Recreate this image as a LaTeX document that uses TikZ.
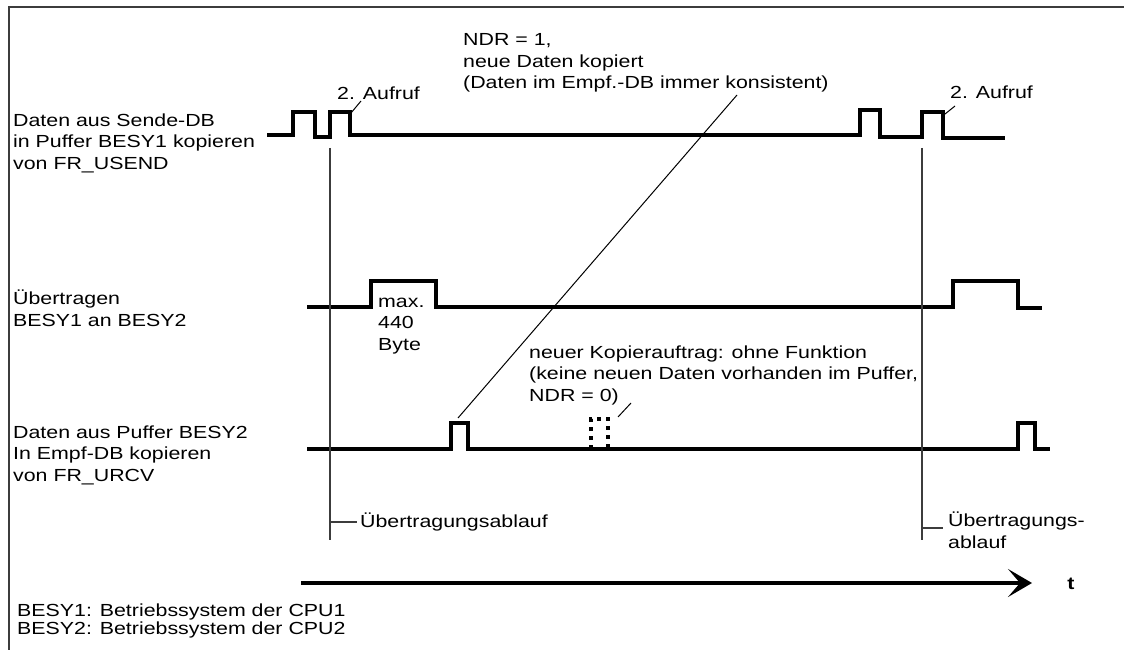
\documentclass[tikz,border=0pt]{standalone}
\usepackage{fontspec}
\setmainfont{Liberation Sans}[FakeStretch=1.22]
\usetikzlibrary{arrows.meta}
\definecolor{frame_gray}{HTML}{3C3C3C}

\begin{document}
\begin{tikzpicture}[
    x=1pt, y=-1pt,  % one unit = one pixel of the sheet, y runs downwards
    signal/.style={line width=4pt, line join=miter},
    leader/.style={line width=1pt},
    marker/.style={line width=1.2pt, frame_gray},
    % multi-line labels sit on the baseline of their last line
    label/.style={anchor=base west, align=left, inner sep=0pt,
                  font=\fontsize{17.5}{21.5}\selectfont},
]
\useasboundingbox (0,0) rectangle (1124,650);

% ── Frame ────────────────────────────────────────────────────────────────────
\draw[frame_gray, line width=1.6pt] (9,650) -- (9,7) -- (1124,7);

% ── Row labels ───────────────────────────────────────────────────────────────
\node[label] (rowsend) at (13,169)
    {Daten aus Sende-DB\\in Puffer BESY1 kopieren\\von FR\_USEND};
\node[label] (rowbus) at (13,326) {Übertragen\\BESY1 an BESY2};
\node[label] (rowrecv) at (13,481)
    {Daten aus Puffer BESY2\\In Empf-DB kopieren\\von FR\_URCV};

% ── Signal 1: copy into buffer BESY1 ─────────────────────────────────────────
\draw[signal] (267,135) -- (293,135) -- (293,112) -- (315,112) -- (315,137)
    -- (330,137) -- (330,112) -- (350,112) -- (350,135) -- (860,135)
    -- (860,110) -- (880,110) -- (880,137) -- (922,137) -- (922,112)
    -- (943,112) -- (943,138) -- (1005,138);

% ── Signal 2: transfer BESY1 -> BESY2 ────────────────────────────────────────
\draw[signal] (307,307) -- (371,307) -- (371,281) -- (436,281) -- (436,307)
    -- (953,307) -- (953,281) -- (1018,281) -- (1018,308) -- (1042,308);
\node[label] (maxbyte) at (378,350) {max.\\440\\Byte};

% ── Signal 3: copy into receive DB ───────────────────────────────────────────
\draw[signal] (307,449) -- (451,449) -- (451,423) -- (468,423) -- (468,449)
    -- (1018,449) -- (1018,423) -- (1035,423) -- (1035,449) -- (1050,449);
% copy job without effect
\draw[signal, dash pattern=on 4pt off 5pt] (591,449) -- (591,419)
    -- (608,419) -- (608,449);

% ── Call labels ──────────────────────────────────────────────────────────────
\node[label] (callA) at (337,100) {2. Aufruf};
\node[label] (callB) at (950,99) {2. Aufruf};
\coordinate (callAfoot) at (361,101);
\coordinate (callApulse) at (351,113);
\coordinate (callBfoot) at (955,106);
\coordinate (callBpulse) at (945,114);
\draw[leader] (callAfoot) -- (callApulse);
\draw[leader] (callBfoot) -- (callBpulse);

% ── Notes on the receive side ────────────────────────────────────────────────
\node[label] (ndrone) at (463,89)
    {NDR = 1,\\neue Daten kopiert\\(Daten im Empf.-DB immer konsistent)};
\coordinate (ndronefoot) at (737,95);
\coordinate (recvpulse) at (458,418);
\draw[leader] (ndronefoot) -- (recvpulse);

\node[label] (ndrzero) at (529,401)
    {neuer Kopierauftrag: ohne Funktion\\(keine neuen Daten vorhanden im Puffer,\\NDR = 0)};
\coordinate (ndrzerofoot) at (631,403);
\coordinate (dummypulse) at (618,417);
\draw[leader] (ndrzerofoot) -- (dummypulse);

% ── Transfer sequence markers ────────────────────────────────────────────────
\foreach \xv in {330,922} {
    \draw[marker] (\xv,148) -- (\xv,540);
}
\draw[marker] (330,522) -- (357,522);
\node[label] (seqA) at (360,527) {Übertragungsablauf};
\draw[marker] (922,528) -- (943,528);
\node[label] (seqB) at (948,548) {Übertragungs-\\ablauf};

% ── Time axis ────────────────────────────────────────────────────────────────
\draw[line width=4pt, -{Stealth[length=24pt, width=28pt, inset=12pt]}]
    (301,583) -- (1032,583);
\node[font=\fontsize{17.5}{21.5}\selectfont\bfseries] (taxis) at (1071,584) {t};

% ── Legend ───────────────────────────────────────────────────────────────────
\node[label, font=\fontsize{17.5}{17.3}\selectfont] (legend) at (17,634)
    {BESY1: Betriebssystem der CPU1\\BESY2: Betriebssystem der CPU2};

\end{tikzpicture}
\end{document}
